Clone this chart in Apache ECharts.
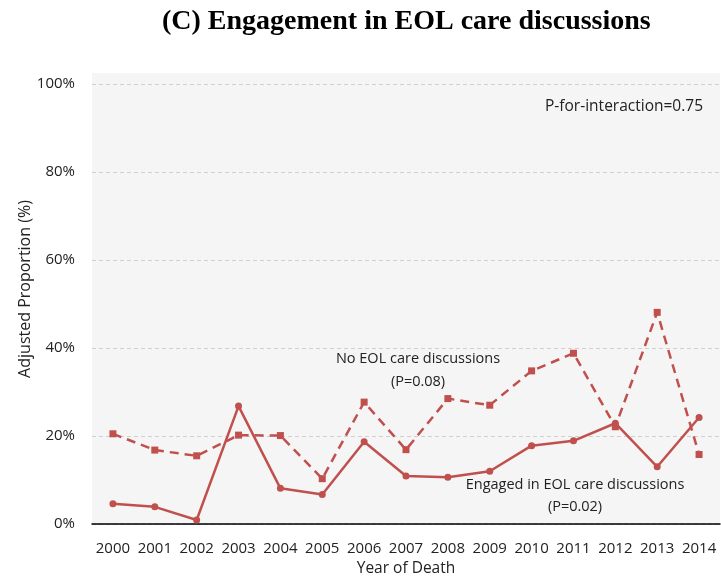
<!DOCTYPE html>
<html>
<head>
<meta charset="utf-8">
<script src="https://cdn.jsdelivr.net/npm/echarts@6/dist/echarts.min.js"></script>
<style>
  html, body { margin: 0; padding: 0; background: #fff; }
  #chart { width: 721px; height: 580px; }
</style>
</head>
<body>
<div id="chart"></div>
<script>
// Year of death categories
const years = ['2000', '2001', '2002', '2003', '2004', '2005', '2006', '2007',
  '2008', '2009', '2010', '2011', '2012', '2013', '2014'];

// Adjusted proportions (%) per year
const engaged = [4.6, 3.9, 0.9, 26.8, 8.1, 6.7, 18.7, 10.9, 10.6, 12.0, 17.8, 18.9, 22.9, 13.0, 24.2];
const noDiscussion = [20.5, 16.8, 15.5, 20.2, 20.1, 10.3, 27.7, 16.9, 28.5, 27.0, 34.8, 38.8, 22.1, 48.1, 15.8];

// Y-axis ticks
const yTicks = [0, 20, 40, 60, 80, 100];

const RED = '#c0504d';
const FONT = '"Open Sans", "Noto Sans", sans-serif';
const TEXT = '#222';

const chart = echarts.init(document.getElementById('chart'), null, { renderer: 'canvas' });

chart.setOption({
  animation: false,
  title: {
    text: '(C) Engagement in EOL care discussions',
    left: 157,
    top: 3,
    textStyle: {
      fontFamily: '"Liberation Serif", "Times New Roman", serif',
      fontWeight: 'bold',
      fontSize: 28,
      color: '#000'
    }
  },
  grid: [
    // plotting grid
    { left: 92, right: 1, top: 84, bottom: 56, containLabel: false, outerBoundsMode: 'none' },
    // shaded panel behind the plot, extending slightly above 100%
    { left: 92, right: 1, top: 73, bottom: 56, show: true, backgroundColor: '#f5f5f5', borderWidth: 0, z: -1, outerBoundsMode: 'none' }
  ],
  xAxis: [
    {
      type: 'category',
      gridIndex: 0,
      data: years,
      boundaryGap: true,
      name: 'Year of Death',
      nameLocation: 'middle',
      nameGap: 37,
      nameMoveOverlap: false,
      nameTextStyle: { fontFamily: FONT, fontSize: 15.5, color: TEXT },
      axisLine: { lineStyle: { color: '#000', width: 1.5 } },
      axisTick: { inside: true, length: 5, lineStyle: { color: '#000', width: 1.5 } },
      axisLabel: { fontFamily: FONT, fontSize: 15, color: TEXT, margin: 17, interval: 0 },
      splitLine: { show: false }
    },
    { type: 'category', gridIndex: 1, show: false, data: years }
  ],
  yAxis: [
    {
      type: 'value',
      gridIndex: 0,
      min: yTicks[0],
      max: yTicks[yTicks.length - 1],
      interval: 20,
      name: 'Adjusted Proportion (%)',
      nameLocation: 'middle',
      nameGap: 59,
      nameMoveOverlap: false,
      nameTextStyle: { fontFamily: FONT, fontSize: 16, color: TEXT, padding: [0, 0, 0, 30] },
      axisLine: { show: false },
      axisTick: { show: false },
      axisLabel: {
        fontFamily: FONT, fontSize: 15, color: TEXT, margin: 17,
        formatter: v => v + '%'
      },
      splitLine: { show: true, lineStyle: { color: '#cfcfcf', type: [4, 3], width: 1 } }
    },
    { type: 'value', gridIndex: 1, show: false, min: 0, max: 100 }
  ],
  series: [
    {
      name: 'No EOL care discussions',
      type: 'line',
      xAxisIndex: 0,
      yAxisIndex: 0,
      data: noDiscussion,
      symbol: 'rect',
      symbolSize: 7,
      itemStyle: { color: RED },
      lineStyle: { color: RED, width: 2.5, type: [9, 6] },
      z: 3
    },
    {
      name: 'Engaged in EOL care discussions',
      type: 'line',
      xAxisIndex: 0,
      yAxisIndex: 0,
      data: engaged,
      symbol: 'circle',
      symbolSize: 7,
      itemStyle: { color: RED },
      lineStyle: { color: RED, width: 2.5 },
      z: 4
    }
  ],
  graphic: [
    {
      type: 'text', z: 10, x: 703, y: 107,
      style: {
        text: 'P-for-interaction=0.75',
        textAlign: 'right', textVerticalAlign: 'middle',
        fontFamily: FONT, fontSize: 15.5, fill: TEXT
      }
    },
    {
      type: 'text', z: 10, x: 418, y: 347,
      style: {
        text: 'No EOL care discussions\n(P=0.08)',
        textAlign: 'center',
        fontFamily: FONT, fontSize: 14.5, fill: TEXT, lineHeight: 23
      }
    },
    {
      type: 'text', z: 10, x: 575, y: 474,
      style: {
        text: 'Engaged in EOL care discussions\n(P=0.02)',
        textAlign: 'center',
        fontFamily: FONT, fontSize: 14.5, fill: TEXT, lineHeight: 22
      }
    }
  ]
});
</script>
</body>
</html>
